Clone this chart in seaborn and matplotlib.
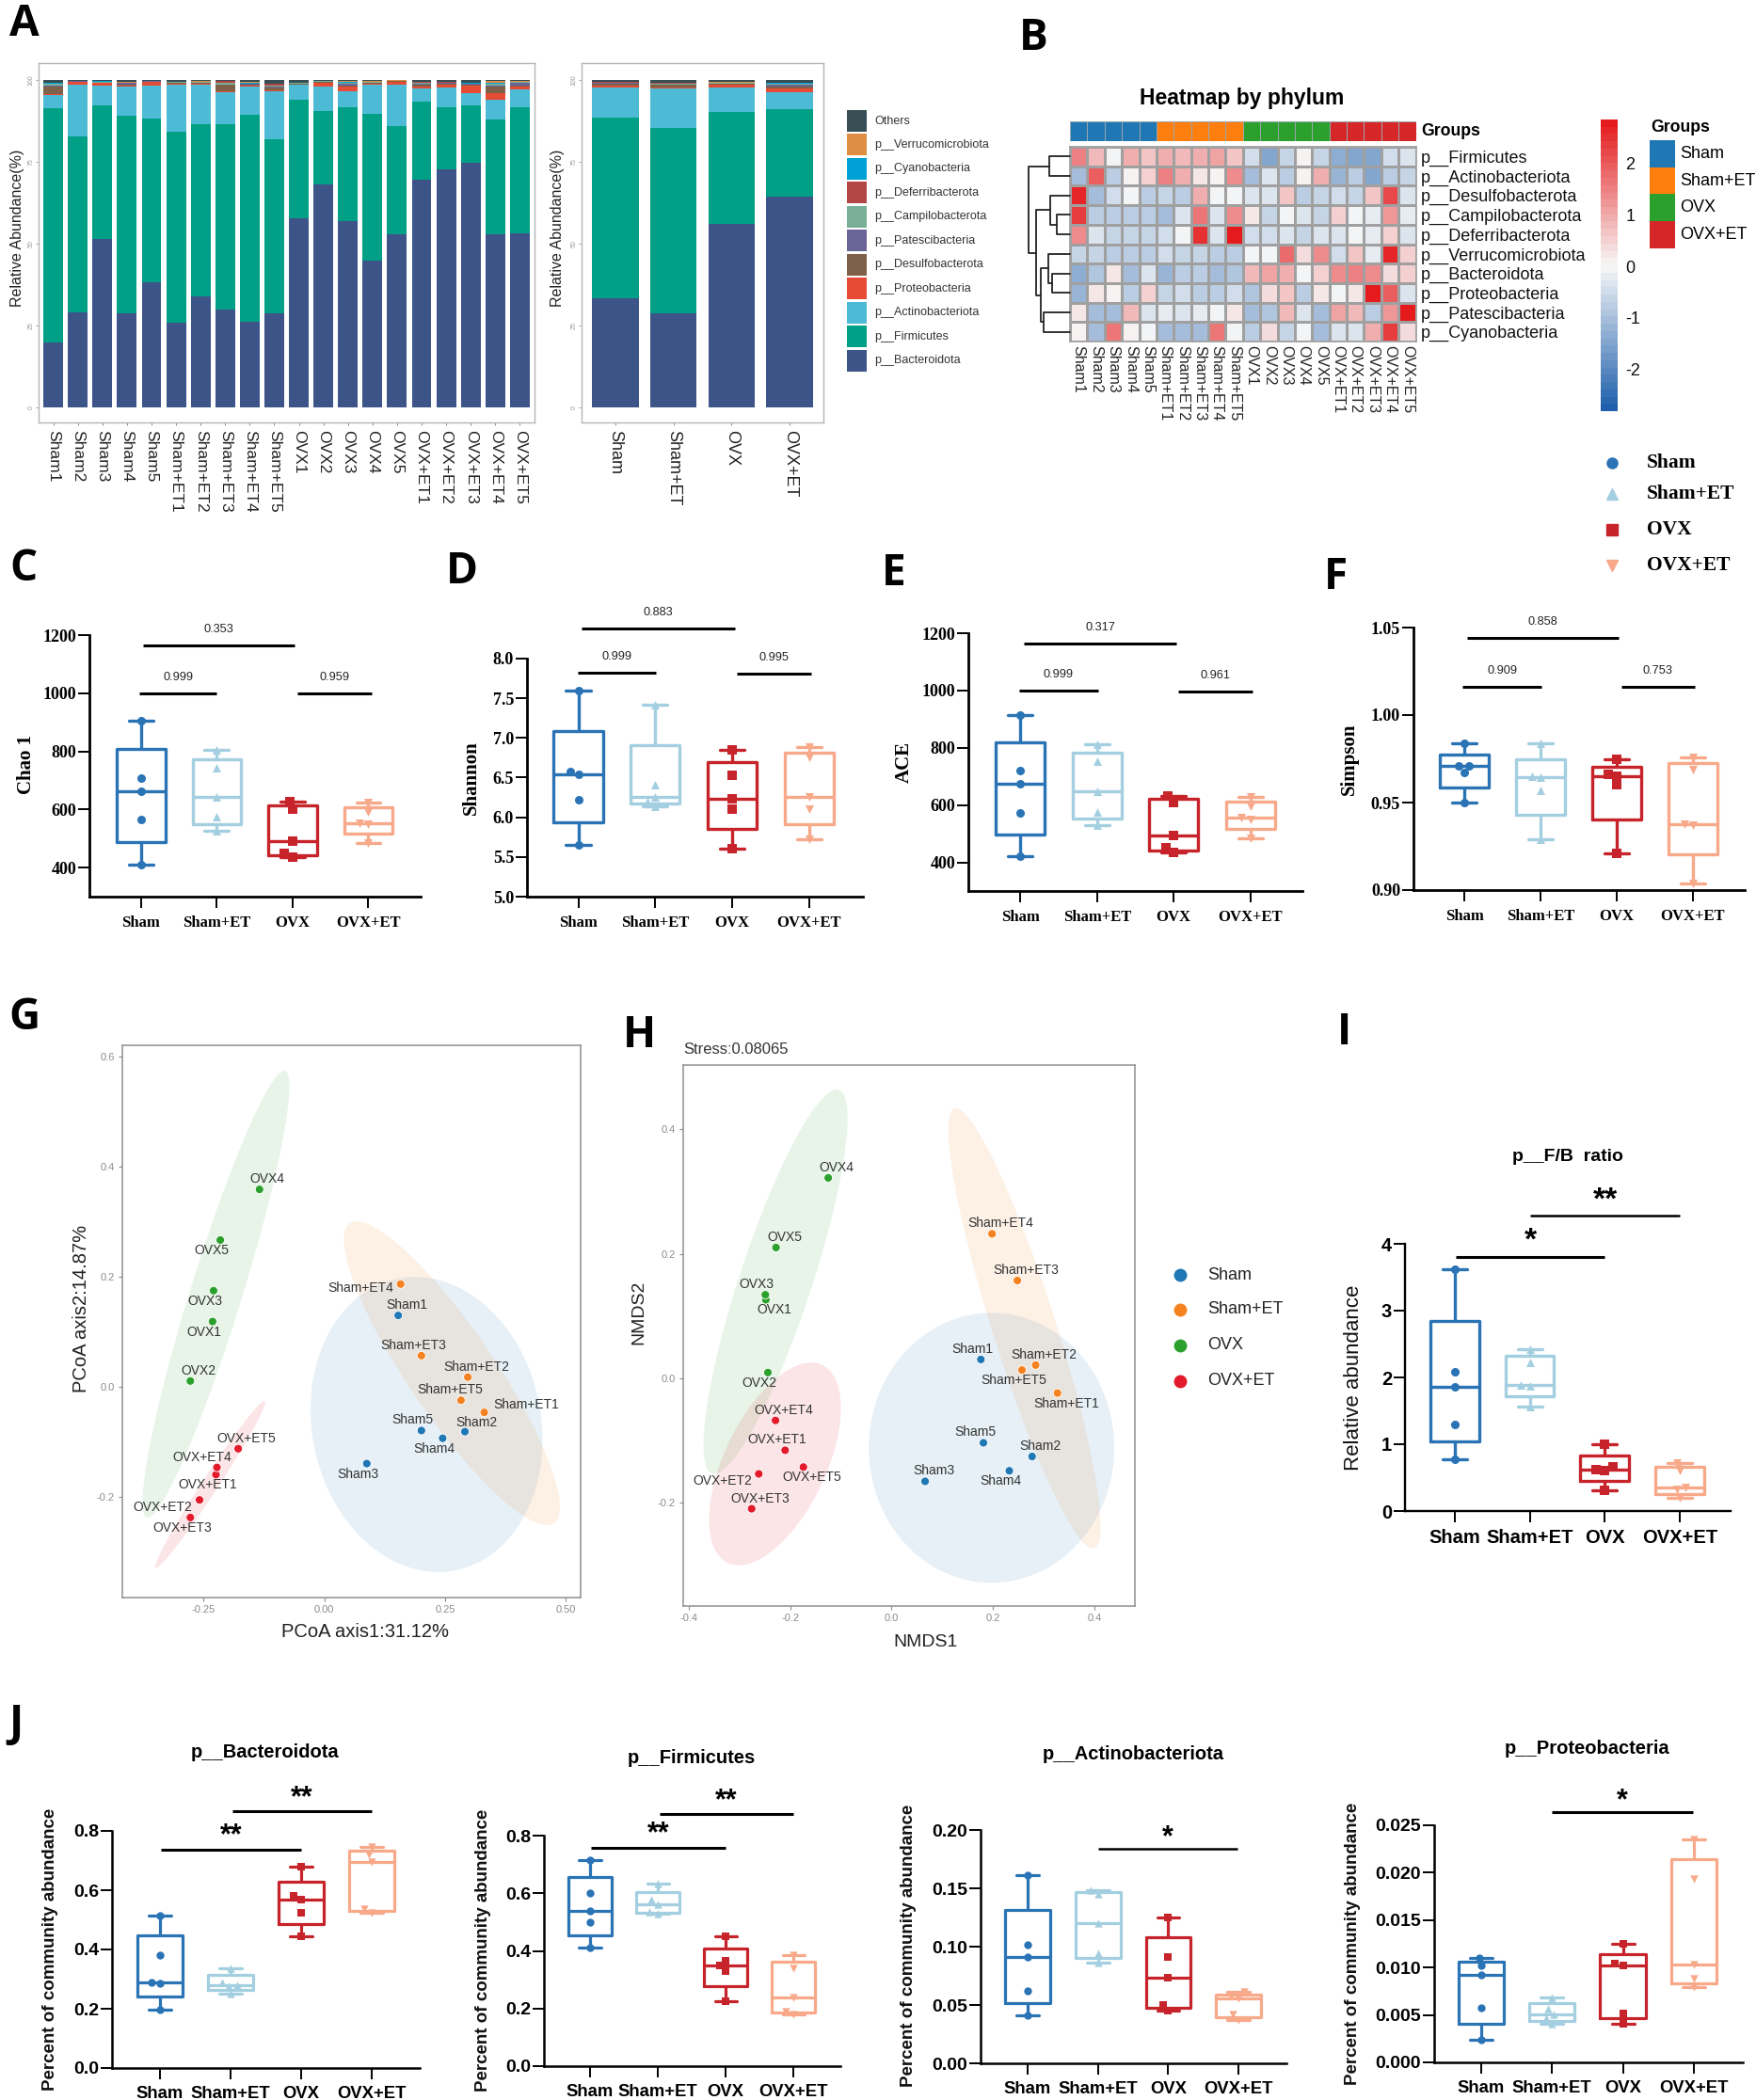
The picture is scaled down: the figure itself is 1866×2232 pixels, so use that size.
"""
Gut microbiota composite figure (panels A-J), rebuilt with seaborn.
Panels are placed by pixel position so the layout follows the source figure.
"""
import warnings
import numpy as np
import pandas as pd
import matplotlib
matplotlib.use("Agg")
import matplotlib.pyplot as plt
import seaborn as sns
from matplotlib.colors import LinearSegmentedColormap, ListedColormap

warnings.filterwarnings("ignore")

W, H = 1866, 2232
PX = 72 / 100  # pixels to points at dpi 100

group_names = ["Sham", "Sham+ET", "OVX", "OVX+ET"]
sample_names = ["Sham1", "Sham2", "Sham3", "Sham4", "Sham5",
                "Sham+ET1", "Sham+ET2", "Sham+ET3", "Sham+ET4", "Sham+ET5",
                "OVX1", "OVX2", "OVX3", "OVX4", "OVX5",
                "OVX+ET1", "OVX+ET2", "OVX+ET3", "OVX+ET4", "OVX+ET5"]

# --- panel A: stacked composition, bottom to top
taxa_stack = ["p__Bacteroidota", "p__Firmicutes", "p__Actinobacteriota", "p__Proteobacteria",
              "p__Desulfobacterota", "p__Patescibacteria", "p__Campilobacterota",
              "p__Deferribacterota", "p__Cyanobacteria", "p__Verrucomicrobiota", "Others"]
taxa_colors = ["#3C5488", "#00A087", "#4DBBD5", "#E64B35", "#7E6148", "#6A6599",
               "#79AF97", "#B24745", "#00A1D5", "#DF8F44", "#374E55"]

bacteroidota = [19.8, 28.9, 51.5, 28.8, 38.2, 25.8, 33.8, 29.9, 26.1, 28.6,
                57.7, 68.2, 56.9, 44.7, 53.0, 69.7, 72.6, 74.6, 52.8, 53.3]
firmicutes = [71.5, 54.0, 40.7, 60.2, 49.9, 58.5, 52.8, 56.5, 63.3, 53.2,
              36.2, 22.4, 34.9, 44.9, 33.0, 23.6, 19.2, 17.7, 35.2, 38.5]
actinobacteriota = [4.1, 15.8, 6.0, 8.9, 10.1, 14.4, 11.9, 9.9, 8.5, 14.7,
                    4.6, 7.3, 4.9, 9.1, 12.5, 4.1, 5.8, 3.6, 5.9, 5.4]
proteobacteria = [.3, .8, .9, .5, 1.2, .3, .5, .4, .5, .5, .2, 1.4, 1.2, .3, 1.0, .7, .9, 2.4, 2.0, .7]
desulfobacterota = [2.4, .05, .1, .3, .1, .2, .2, 1.8, .3, .8, .1, .1, .5, .1, .1, .4, .3, .2, 2.1, .3]
patescibacteria = [.1, .05, .05, .4, .1, .1, .1, .1, .1, .1, .1, .1, .6, .2, .05, .5, .3, .3, .4, 1.1]
campilobacterota = [.7, .05, .1, .1, .05, .05, .1, .5, .1, .4, .2, .1, .2, .1, .05, .3, .2, .1, .5, .1]
deferribacterota = [.1, .05, .05, .05, .05, .05, .1, .5, .05, .6, .05, .05, .1, .05, .05, .05, .1, .05, .1, .05]
cyanobacteria = [.05, .05, .2, .05, .05, .05, .05, .05, .35, .05, .05, .1, .05, .05, .05, .05, .05, .1, .3, .1]
verrucomicrobiota = [.05, .05, .05, .05, .05, .05, .05, .05, .05, .05, .1, .1, .3, .1, .1, .05, .1, .05, .3, .1]
others = [.9, .2, .35, .65, .2, .5, .4, .3, .65, 1.0, .7, .15, .35, .4, .1, .55, .45, .9, .4, .35]
sample_stack = [bacteroidota, firmicutes, actinobacteriota, proteobacteria, desulfobacterota,
                patescibacteria, campilobacterota, deferribacterota, cyanobacteria,
                verrucomicrobiota, others]

# group means, one row per taxon in taxa_stack order
group_stack = [[33.4, 28.7, 56.0, 64.5], [55.2, 56.8, 34.2, 26.7], [9.0, 11.9, 7.6, 5.0],
               [.7, .45, .8, 1.3], [.6, .65, .2, .65], [.15, .1, .2, .5], [.2, .2, .1, .25],
               [.06, .25, .06, .06], [.08, .1, .06, .12], [.05, .05, .15, .13], [.56, .8, .63, .79]]

# --- panel B: z-scored heatmap
heat_rows = ["p__Firmicutes", "p__Actinobacteriota", "p__Desulfobacterota", "p__Campilobacterota",
             "p__Deferribacterota", "p__Verrucomicrobiota", "p__Bacteroidota", "p__Proteobacteria",
             "p__Patescibacteria", "p__Cyanobacteria"]
heat_values = [
    [1.5, .8, -.1, 1.0, .6, 1.0, .8, .9, 1.1, .7, -.5, -1.4, -.6, .1, -.6, -1.3, -1.5, -1.5, -.5, -.3],
    [-1.0, 1.9, -.7, .1, .5, 1.5, .9, .3, .1, 1.4, -1.1, -.4, -.8, .1, 1.0, -1.2, -.8, -1.4, -.7, -.6],
    [2.7, -1.0, -.5, -.1, -.7, -.6, -.7, 1.0, -.1, -.05, -.3, -.3, .6, -.8, -.6, -.5, -.6, .7, 2.2, -.4],
    [2.4, -.7, -.8, -.7, -.8, -1.0, -.4, 1.6, -.3, 1.3, .3, -.6, -.1, -.4, -.6, .5, -.05, -.2, 1.2, -.2],
    [1.3, -.4, -.6, -.6, -.6, -.5, 0, 2.5, -.3, 2.8, -.5, -.5, -.4, -.6, -.4, -.3, -.05, -.2, .5, -.4],
    [-.6, -.6, -.7, -.7, -.7, -.5, -.6, -.6, -.7, -.7, -.05, -.05, 1.8, .4, 1.4, -.5, .6, -.2, 2.7, .5],
    [-1.3, -.9, .3, -1.0, -.4, -1.2, -.7, -.8, -1.0, -.9, .8, 1.1, .9, -.05, .5, 1.3, 1.5, 1.4, .4, .5],
    [-1.2, .3, .1, -.7, .5, -.6, -.5, -.7, -.7, -.5, -.9, .4, .7, -.7, .3, -.05, .3, 2.8, 2.0, -.3],
    [.3, -1.1, -1.1, .8, -.4, -.2, -.3, -.2, -.05, .3, -1.0, -.9, .8, -.4, -1.0, 1.1, .8, -.8, 1.2, 2.8],
    [.1, -1.0, 1.6, .1, -.05, -1.0, -1.1, -1.0, 1.7, -.05, -.8, .4, -.6, -.1, -1.0, -.3, -.3, .9, 2.3, .4],
]
heat_groups = [0] * 5 + [1] * 5 + [2] * 5 + [3] * 5
# row dendrogram: (left node, right node, height); new nodes are numbered from 10
row_merges = [(0, 1, 41), (3, 4, 26), (2, 11, 39), (6, 7, 36), (5, 13, 44),
              (8, 9, 53), (14, 15, 58), (12, 16, 68), (10, 17, 83)]

# --- panels C-F: alpha diversity, five samples per group, sorted high to low
chao1 = [[905, 709, 662, 564, 409], [804, 743, 644, 574, 527],
         [628, 600, 492, 449, 436], [625, 592, 554, 549, 485]]
shannon = [[7.6, 6.58, 6.54, 6.22, 5.65], [7.42, 6.41, 6.26, 6.2, 6.14],
           [6.85, 6.53, 6.23, 6.1, 5.6], [6.88, 6.76, 6.26, 6.1, 5.72]]
ace = [[915, 722, 673, 573, 422], [812, 752, 648, 577, 531],
       [632, 610, 493, 451, 434], [630, 595, 556, 549, 485]]
simpson = [[.984, .971, .9708, .967, .950], [.984, .965, .9645, .957, .929],
           [.975, .966, .965, .960, .921], [.976, .969, .9375, .937, .904]]

# --- panel I and J: sans styled box plots
fb_ratio = [[3.62, 2.08, 1.86, 1.30, .78], [2.42, 2.22, 1.89, 1.87, 1.57],
            [1.0, .66, .62, .60, .31], [.72, .60, .35, .32, .20]]
j_bacteroidota = [[.513, .38, .289, .285, .196], [.338, .29, .28, .276, .25],
                  [.68, .58, .569, .525, .445], [.745, .72, .695, .535, .525]]
j_firmicutes = [[.715, .60, .54, .50, .41], [.632, .578, .561, .535, .53],
                [.45, .365, .348, .33, .225], [.385, .34, .239, .19, .18]]
j_actinobacteriota = [[.161, .102, .0914, .062, .041], [.148, .145, .12, .094, .086],
                      [.125, .091, .0734, .05, .045], [.061, .057, .056, .042, .037]]
j_proteobacteria = [[.011, .0102, .0092, .0058, .0024], [.0068, .0057, .0051, .0047, .0041],
                    [.0125, .0104, .0102, .0052, .0041], [.0235, .0193, .0103, .0088, .0079]]

# --- panels G and H: ordination scores, in sample_names order
pcoa_x = [.153, .291, .088, .245, .201, .331, .297, .201, .158, .283,
          -.231, -.277, -.229, -.134, -.215, -.224, -.258, -.277, -.222, -.178]
pcoa_y = [.130, -.081, -.139, -.093, -.079, -.046, .018, .057, .187, -.024,
          .119, .011, .175, .359, .267, -.159, -.205, -.237, -.146, -.112]
nmds_x = [.176, .277, .066, .232, .181, .327, .284, .248, .198, .257,
          -.248, -.244, -.249, -.125, -.228, -.21, -.262, -.276, -.229, -.174]
nmds_y = [.03, -.126, -.166, -.149, -.104, -.024, .021, .157, .232, .013,
          .126, .009, .134, .322, .21, -.116, -.154, -.21, -.068, -.143]
# group ellipses: centre x, centre y, half width, half height, tilt (rho)
pcoa_ellipses = [(.2117, -.068, .24, .268, -.1), (.264, .025, .2236, .276, -.88),
                 (-.224, .1686, .152, .406, .93), (-.236, -.177, .114, .152, .985)]
nmds_ellipses = [(.197, -.112, .242, .217, 0), (.262, .08, .15, .354, -.9),
                 (-.229, .155, .142, .309, .85), (-.23, -.138, .13, .163, .55)]
# label offsets from the point, in pixels
pcoa_offsets = [(9, -11), (12, -10), (-9, 11), (-9, 11), (-9, -11), (45, -8), (9, -11), (-9, -11), (-42, 4), (-12, -11),
                (-9, 11), (9, -11), (-9, 11), (8, -11), (-9, 11), (-9, 11), (-39, 8), (-9, 11), (-16, -11), (9, -11)]
nmds_offsets = [(-9, -11), (9, -11), (9, -11), (-9, 11), (-9, -11), (9, 11), (9, -11), (9, -11), (9, -11), (-9, 11),
                (9, 11), (-9, 11), (-9, -11), (9, -11), (9, -11), (-9, -11), (-38, 7), (9, -11), (9, -11), (9, 11)]

box_colors = ["#2a73b5", "#a3cfe0", "#c6232a", "#f7a98a"]
box_markers = ["o", "^", "s", "v"]
scatter_colors = ["#1f77b4", "#f58220", "#2ca02c", "#e31a2c"]
heat_group_colors = ["#1f77b4", "#ff7f0e", "#2ca02c", "#d62728"]

SANS = ["Liberation Sans", "DejaVu Sans"]
SERIF = ["Liberation Serif", "DejaVu Serif"]

sns.set_theme(style="ticks")
plt.rcParams["font.family"] = SANS
plt.rcParams["axes.unicode_minus"] = False

fig = plt.figure(figsize=(W / 100, H / 100), dpi=100, facecolor="white")


def add_ax(x0, y0, x1, y1):
    return fig.add_axes([x0 / W, 1 - y1 / H, (x1 - x0) / W, (y1 - y0) / H])


overlay = add_ax(0, 0, W, H)
overlay.set_xlim(0, W)
overlay.set_ylim(H, 0)
overlay.axis("off")
overlay.set_zorder(10)


def put(x, y, text, size, family=SANS, weight="normal", color="black", ha="center", va="center", rotation=0):
    overlay.text(x, y, text, fontsize=size, family=family, fontweight=weight, color=color,
                 ha=ha, va=va, rotation=rotation)


def composition_panel(ax, names, rows, label_size):
    frames = []
    for taxon, values in zip(taxa_stack, rows):
        frames.append(pd.DataFrame({"sample": names, "taxon": taxon, "value": values}))
    long_df = pd.concat(frames)
    # histplot stacks the first hue level on top
    sns.histplot(data=long_df, x="sample", weights="value", hue="taxon", multiple="stack",
                 hue_order=taxa_stack[::-1], palette=dict(zip(taxa_stack, taxa_colors)),
                 discrete=True, shrink=.8, alpha=1, linewidth=0, legend=False, ax=ax)
    ax.set_xlim(-.6 if len(names) > 4 else -.58, len(names) - .4 if len(names) > 4 else 3.58)
    ax.set_ylim(-4.6, 105.2)
    ax.set_yticks([0, 25, 50, 75, 100])
    ax.set_xlabel("")
    ax.set_ylabel("")
    ax.tick_params(axis="y", labelsize=5, labelcolor="#999999", length=2, width=.6, color="#999999", pad=1)
    ax.tick_params(axis="x", labelsize=label_size, labelcolor="#222222", length=2.5, width=.6, color="#777777", pad=3)
    plt.setp(ax.get_yticklabels(), rotation=90, va="center")
    plt.setp(ax.get_xticklabels(), rotation=270, ha="center", va="top")
    for spine in ax.spines.values():
        spine.set_visible(True)
        spine.set_color("#b5b5b5")
        spine.set_linewidth(1)


def box_panel(rect, points, xlim, ylim, yticks, fmt, style):
    ax = add_ax(*rect)
    five = []
    for pts in points:
        # GraphPad style quartiles for n = 5
        five.append([pts[4], (pts[3] + pts[4]) / 2, pts[2], (pts[0] + pts[1]) / 2, pts[0]])
    df = pd.DataFrame({"group": np.repeat(group_names, 5), "value": np.ravel(five)})
    sns.boxplot(data=df, x="group", y="value", hue="group", order=group_names, hue_order=group_names,
                palette=box_colors, saturation=1, fill=False, width=style["box_width"], whis=(0, 100),
                linewidth=style["box_lw"], legend=False, ax=ax)
    ax.set_xlim(*xlim)
    ax.set_ylim(*ylim)
    for name, pts, color, marker in zip(group_names, points, box_colors, box_markers):
        sns.swarmplot(x=[name] * 5, y=pts, order=group_names, color=color, marker=marker,
                      size=style["marker"], linewidth=0, ax=ax, zorder=4)
    ax.set_xlim(*xlim)
    ax.set_ylim(*ylim)
    ax.set_yticks(yticks)
    ax.set_yticklabels([fmt % t for t in yticks])
    ax.set_xlabel("")
    ax.set_ylabel("")
    ax.patch.set_alpha(0)
    sns.despine(ax=ax)
    for side in ("left", "bottom"):
        ax.spines[side].set_linewidth(style["axis_lw"])
        ax.spines[side].set_color("black")
    ax.tick_params(axis="both", length=8.5, width=1.4, color="black", labelcolor="black")
    ax.tick_params(axis="x", pad=style["xpad"])
    ax.tick_params(axis="y", pad=1.5)
    for lab in ax.get_xticklabels():
        lab.set(family=style["family"], fontweight="bold", fontsize=style["xsize"])
    for lab in ax.get_yticklabels():
        lab.set(family=style["family"], fontweight="bold", fontsize=style["ysize"])
    return ax


def bracket(ax, x0, x1, y, label, lw=2.2, offset=17, size=9.2, family=SANS, weight="normal"):
    ax.plot([x0, x1], [y, y], color="black", lw=lw, clip_on=False, solid_capstyle="butt", zorder=5)
    ax.annotate(label, ((x0 + x1) / 2, y), xytext=(0, offset * PX), textcoords="offset points",
                ha="center", va="center", fontsize=size, family=family, fontweight=weight,
                color="#222222" if weight == "normal" else "black", annotation_clip=False)


def ordination_panel(rect, xs, ys, ellipses, offsets, xlim, ylim, xticks, yticks, xfmt, yfmt):
    ax = add_ax(*rect)
    t = np.linspace(0, 2 * np.pi, 200)
    for (cx, cy, rx, ry, rho), color in zip(ellipses, scatter_colors):
        ax.fill(cx + rx * np.cos(t), cy + ry * (rho * np.cos(t) + np.sqrt(1 - rho ** 2) * np.sin(t)),
                color=color, alpha=.11, linewidth=0)
    groups = np.repeat(group_names, 5)
    sns.scatterplot(x=xs, y=ys, hue=groups, hue_order=group_names, palette=scatter_colors, s=42,
                    edgecolor="white", linewidth=.6, legend=False, ax=ax, zorder=3)
    for x, y, name, (dx, dy) in zip(xs, ys, sample_names, offsets):
        ax.annotate(name, (x, y), xytext=(dx * PX, -dy * PX), textcoords="offset points",
                    ha="center", va="center", fontsize=10, color="#333333")
    ax.set_xlim(*xlim)
    ax.set_ylim(*ylim)
    ax.set_xticks(xticks)
    ax.set_xticklabels([xfmt % v for v in xticks])
    ax.set_yticks(yticks)
    ax.set_yticklabels([yfmt % v for v in yticks])
    ax.tick_params(axis="both", labelsize=8, labelcolor="#8c8c8c", length=3, width=.8, color="#8c8c8c", pad=3)
    for spine in ax.spines.values():
        spine.set_visible(True)
        spine.set_color("#8f8f8f")
        spine.set_linewidth(1.1)
    return ax


# --- panel A
ax_a1 = add_ax(41, 67, 568, 449)
composition_panel(ax_a1, sample_names, sample_stack, 12.5)
ax_a2 = add_ax(618, 67, 875, 449)
composition_panel(ax_a2, group_names, group_stack, 13)
put(19, 242, "Relative Abundance(%)", 11.5, color="#222222", rotation=90)
put(592, 242, "Relative Abundance(%)", 11.5, color="#222222", rotation=90)
for i, (name, color) in enumerate(zip(taxa_stack[::-1], taxa_colors[::-1])):
    ypos = 128.5 + i * 25.45
    overlay.add_patch(plt.Rectangle((900, ypos - 11.5), 21, 23, color=color, lw=0))
    put(929, ypos, name, 9, color="#333333", ha="left")

# --- panel B
heat_cmap = LinearSegmentedColormap.from_list("heat", ["#1f5fab", "#f8f8f8", "#e41a1c"], N=40)
ax_heat = add_ax(1137, 156, 1504.5, 363)
ax_cbar = add_ax(1701, 127, 1719, 437)
sns.heatmap(pd.DataFrame(heat_values, index=heat_rows, columns=sample_names), ax=ax_heat, cbar_ax=ax_cbar,
            cmap=heat_cmap, vmin=-2.81, vmax=2.85, linewidths=1, linecolor="#a0a0a0",
            xticklabels=True, yticklabels=True)
for spine in ax_heat.spines.values():
    spine.set_visible(True)
    spine.set_color("#a0a0a0")
ax_heat.yaxis.tick_right()
ax_heat.tick_params(axis="both", length=0)
ax_heat.tick_params(axis="y", pad=4)
ax_heat.tick_params(axis="x", pad=3)
plt.setp(ax_heat.get_yticklabels(), rotation=0, fontsize=13, color="#111111")
plt.setp(ax_heat.get_xticklabels(), rotation=270, fontsize=11.5, color="#222222", ha="center", va="top")
ax_cbar.set_yticks([-2, -1, 0, 1, 2])
ax_cbar.set_yticklabels(["-2", "-1", "0", "1", "2"], fontsize=13, color="#111111")
ax_cbar.tick_params(length=0, pad=6)

ax_bar = add_ax(1137, 129, 1504.5, 150)
sns.heatmap([heat_groups], ax=ax_bar, cmap=ListedColormap(heat_group_colors), cbar=False,
            linewidths=.6, linecolor="#9aa5ad", xticklabels=False, yticklabels=False)
put(1510, 140, "Groups", 12.7, weight="bold", ha="left")
put(1320, 104, "Heatmap by phylum", 16.5, weight="bold")
put(1754, 135, "Groups", 12.7, weight="bold", ha="left")
for i, (name, color) in enumerate(zip(group_names, heat_group_colors)):
    overlay.add_patch(plt.Rectangle((1753, 149 + i * 28.7), 27, 28.7, color=color, lw=0))
    put(1785, 163.5 + i * 28.7, name, 13, ha="left")

ax_dend = add_ax(1093, 156, 1137, 363)
ax_dend.set_xlim(83, 0)
ax_dend.set_ylim(10, 0)
ax_dend.axis("off")
node_y = {i: i + .5 for i in range(10)}
node_h = {i: 0 for i in range(10)}
for k, (a, b, h) in enumerate(row_merges):
    ax_dend.plot([node_h[a], h, h, node_h[b]], [node_y[a], node_y[a], node_y[b], node_y[b]],
                 color="#222222", lw=1.3, clip_on=False)
    node_y[10 + k] = (node_y[a] + node_y[b]) / 2
    node_h[10 + k] = h

# group marker legend, right of the heatmap
for ypos, name, color, marker in zip([492, 525, 563, 601], group_names, box_colors, box_markers):
    overlay.plot([1713], [ypos], marker=marker, color=color, markersize=8, linestyle="none")
    put(1750, ypos, name, 15.5, family=SERIF, weight="bold", ha="left")

# --- panels C-F
serif_style = dict(family=SERIF, box_width=.64, box_lw=2.4, marker=6.5, axis_lw=2, xsize=12, ysize=13, xpad=6)
ax_c = box_panel((95, 675, 447, 953), chao1, (-.68, 3.69), (300, 1200), [400, 600, 800, 1000, 1200], "%d", serif_style)
bracket(ax_c, .03, 2.03, 1166, "0.353")
bracket(ax_c, -.02, 1.0, 1000, "0.999")
bracket(ax_c, 2.06, 3.04, 998, "0.959")
ax_d = box_panel((560, 700, 917, 953), shannon, (-.667, 3.70), (5, 8), [5, 5.5, 6, 6.5, 7, 7.5, 8], "%.1f", serif_style)
bracket(ax_d, .04, 2.04, 8.38, "0.883")
bracket(ax_d, -.01, 1.01, 7.82, "0.999")
bracket(ax_d, 2.06, 3.03, 7.81, "0.995")
ax_e = box_panel((1029, 673, 1384, 947), ace, (-.68, 3.68), (300, 1200), [400, 600, 800, 1000, 1200], "%d", serif_style)
bracket(ax_e, .04, 2.04, 1164, "0.317")
bracket(ax_e, -.02, 1.01, 999, "0.999")
bracket(ax_e, 2.06, 3.03, 997, "0.961")
ax_f = box_panel((1502, 667, 1854, 946), simpson, (-.667, 3.68), (.90, 1.05), [.90, .95, 1.0, 1.05], "%.2f", serif_style)
bracket(ax_f, .04, 2.03, 1.0439, "0.858")
bracket(ax_f, -.02, 1.01, 1.0162, "0.909")
bracket(ax_f, 2.06, 3.02, 1.0159, "0.753")
put(28, 813, "Chao 1", 15, family=SERIF, weight="bold", rotation=90)
put(501, 827, "Shannon", 15, family=SERIF, weight="bold", rotation=90)
put(961, 810, "ACE", 15, family=SERIF, weight="bold", rotation=90)
put(1434, 807, "Simpson", 15, family=SERIF, weight="bold", rotation=90)

# --- panels G and H
ordination_panel((130, 1111, 617, 1698), pcoa_x, pcoa_y, pcoa_ellipses, pcoa_offsets,
                 (-.4177, .5304), (-.3824, .6207), [-.25, 0, .25, .5], [-.2, 0, .2, .4, .6], "%.2f", "%.1f")
put(388, 1735, "PCoA axis1:31.12%", 14.5, color="#222222")
put(87, 1391, "PCoA axis2:14.87%", 14.5, color="#222222", rotation=90)
ordination_panel((726, 1132, 1206, 1707), nmds_x, nmds_y, nmds_ellipses, nmds_offsets,
                 (-.411, .4797), (-.3665, .5034), [-.4, -.2, 0, .2, .4], [-.2, 0, .2, .4], "%.1f", "%.1f")
put(984, 1746, "NMDS1", 14, color="#222222")
put(679, 1395, "NMDS2", 14, color="#222222", rotation=90)
put(726, 1115, "Stress:0.08065", 12, color="#333333", ha="left")
for ypos, name, color in zip([1355, 1392, 1430, 1468], group_names, scatter_colors):
    overlay.plot([1254], [ypos], marker="o", color=color, markersize=9, linestyle="none")
    put(1283, ypos, name, 13, color="#222222", ha="left")

# --- panel I
sans_style = dict(family=SANS, box_width=.65, box_lw=2.4, marker=6.5, axis_lw=1.7, xsize=14.5, ysize=14.5, xpad=5)
ax_i = box_panel((1493, 1322, 1839, 1606), fb_ratio, (-.665, 3.68), (0, 4), [0, 1, 2, 3, 4], "%d", sans_style)
bracket(ax_i, .01, 2.0, 3.805, "*", lw=2.2, offset=17, size=24, family=SANS, weight="bold")
bracket(ax_i, 1.01, 3.0, 4.42, "**", lw=1.8, offset=16, size=24, family=SANS, weight="bold")
put(1439, 1464, "Relative abundance", 16, color="#111111", rotation=90)
put(1666, 1229, "p__F/B  ratio", 14, weight="bold")

# --- panel J
j_style = dict(family=SANS, box_width=.64, box_lw=2.3, marker=6, axis_lw=1.8, xsize=13.3, ysize=14, xpad=5)
ax_j1 = box_panel((119, 1946, 446, 2198), j_bacteroidota, (-.68, 3.68), (0, .8), [0, .2, .4, .6, .8], "%.1f", j_style)
bracket(ax_j1, .01, 2.0, .738, "**", offset=14, size=22, family=SANS, weight="bold")
bracket(ax_j1, 1.02, 3.0, .867, "**", offset=14, size=22, family=SANS, weight="bold")
ax_j2 = box_panel((578, 1951, 893, 2196), j_firmicutes, (-.68, 3.69), (0, .8), [0, .2, .4, .6, .8], "%.1f", j_style)
bracket(ax_j2, .01, 2.0, .7586, "**", offset=14, size=22, family=SANS, weight="bold")
bracket(ax_j2, 1.02, 2.99, .874, "**", offset=14, size=22, family=SANS, weight="bold")
ax_j3 = box_panel((1042, 1945, 1367, 2193), j_actinobacteriota, (-.67, 3.68), (0, .2),
                  [0, .05, .10, .15, .20], "%.2f", j_style)
bracket(ax_j3, 1.0, 2.99, .184, "*", lw=1.8, offset=12, size=22, family=SANS, weight="bold")
ax_j4 = box_panel((1524, 1940, 1852, 2192), j_proteobacteria, (-.66, 3.69), (0, .025),
                  [0, .005, .010, .015, .020, .025], "%.3f", j_style)
bracket(ax_j4, 1.0, 2.99, .0264, "*", offset=12, size=22, family=SANS, weight="bold")
put(282, 1863, "p__Bacteroidota", 14.5, weight="bold")
put(735, 1868, "p__Firmicutes", 14.5, weight="bold")
put(1204, 1864, "p__Actinobacteriota", 14.5, weight="bold")
put(1687, 1859, "p__Proteobacteria", 14.5, weight="bold")
for xpos, ypos in [(54, 2072), (514, 2073), (966, 2068), (1437, 2066)]:
    put(xpos, ypos, "Percent of community abundance", 13.5, weight="bold", color="#111111", rotation=90)

# --- panel letters
for letter, xpos, ypos in [("A", 10, 38), ("B", 1083, 53), ("C", 10, 617), ("D", 474, 620), ("E", 937, 622),
                           ("F", 1407, 626), ("G", 9, 1094), ("H", 662, 1113), ("I", 1421, 1110), ("J", 9, 1845)]:
    put(xpos, ypos, letter, 33, family=["Open Sans", "DejaVu Sans"], weight="bold", ha="left", va="baseline")

fig.savefig("out.png", dpi=100, facecolor="white")
plt.close(fig)
